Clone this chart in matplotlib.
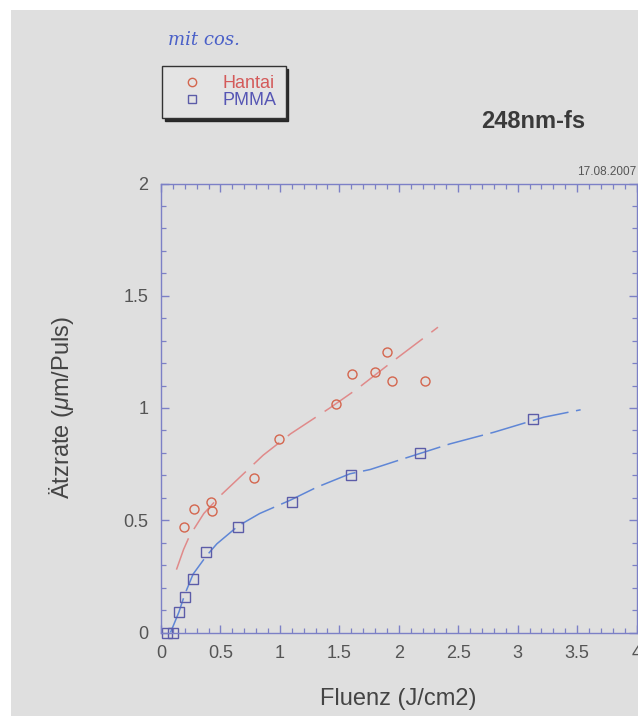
import matplotlib
matplotlib.use('Agg')
import matplotlib.pyplot as plt
from matplotlib.patches import Rectangle
from matplotlib.lines import Line2D

plt.rcParams['font.family'] = ['Liberation Sans', 'DejaVu Sans']
plt.rcParams['mathtext.fontset'] = 'custom'
plt.rcParams['mathtext.rm'] = 'Liberation Sans'
plt.rcParams['mathtext.it'] = 'Liberation Sans:italic'

hantai_x = [0.19, 0.28, 0.42, 0.43, 0.78, 0.99, 1.47, 1.61, 1.80, 1.90, 1.94, 2.22]
hantai_y = [0.47, 0.55, 0.58, 0.54, 0.69, 0.86, 1.02, 1.15, 1.16, 1.25, 1.12, 1.12]
pmma_x = [0.05, 0.10, 0.15, 0.20, 0.27, 0.38, 0.65, 1.10, 1.60, 2.18, 3.13]
pmma_y = [0.0, 0.0, 0.09, 0.16, 0.24, 0.36, 0.47, 0.58, 0.70, 0.80, 0.95]

# fit-kurven
hantai_fit_x = [0.13, 0.19, 0.24, 0.36, 0.50, 0.72, 0.86, 1.09, 1.42, 1.65, 1.93, 2.33]
hantai_fit_y = [0.28, 0.37, 0.43, 0.53, 0.61, 0.72, 0.79, 0.885, 1.00, 1.085, 1.20, 1.36]
pmma_fit_x = [0.08, 0.15, 0.20, 0.27, 0.38, 0.47, 0.65, 0.83, 1.09, 1.31, 1.59, 1.76, 2.01, 2.43, 2.80, 3.22, 3.53]
pmma_fit_y = [0.0, 0.09, 0.17, 0.26, 0.34, 0.395, 0.475, 0.53, 0.59, 0.647, 0.707, 0.726, 0.769, 0.84, 0.892, 0.959, 0.992]

xticks = [0, 0.5, 1, 1.5, 2, 2.5, 3, 3.5, 4]
xticklabels = ['0', '0.5', '1', '1.5', '2', '2.5', '3', '3.5', '4']
yticks = [0, 0.5, 1, 1.5, 2]
yticklabels = ['0', '0.5', '1', '1.5', '2']

fig = plt.figure(figsize=(6.38, 7.16), dpi=100)
fig.patch.set_facecolor('white')
# grauer scan-hintergrund
fig.add_artist(Rectangle((11/638, 0), 1, 1 - 10/716, transform=fig.transFigure,
                         facecolor='#dfdfdf', edgecolor='none', zorder=-10))

ax = fig.add_axes([161/638, 1 - 632.5/716, 475.5/638, 449/716])
ax.set_facecolor('none')

spine_col = '#7c80c6'
for s in ax.spines.values():
    s.set_color(spine_col)
    s.set_linewidth(1.0)

ax.plot(hantai_fit_x, hantai_fit_y, color='#e08a8a', lw=1.1, dashes=[22, 7])
ax.plot(pmma_fit_x, pmma_fit_y, color='#5f86d6', lw=1.1, dashes=[24, 5])
ax.plot(hantai_x, hantai_y, 'o', mfc='none', mec='#d4664e', ms=6.5, mew=1.0, clip_on=False)
ax.plot(pmma_x, pmma_y, 's', mfc='none', mec='#5c5ca8', ms=7, mew=1.0, clip_on=False)

ax.set_xlim(0, 4)
ax.set_ylim(0, 2)
ax.set_xticks(xticks, labels=xticklabels)
ax.set_yticks(yticks, labels=yticklabels)
ax.set_xticks([i / 10 for i in range(41)], minor=True)
ax.set_yticks([i / 10 for i in range(21)], minor=True)
ax.tick_params(which='both', direction='in', top=True, right=True, color=spine_col)
ax.tick_params(which='major', length=6, width=1.0, labelsize=13, labelcolor='#555555')
ax.tick_params(which='minor', length=3.5, width=0.9)
ax.tick_params(axis='x', pad=9)
ax.tick_params(axis='y', pad=9)

ax.set_xlabel('Fluenz (J/cm2)', fontsize=17, color='#444444')
ax.set_ylabel('Ätzrate ($\\mu$m/Puls)', fontsize=17, color='#444444')
ax.xaxis.set_label_coords(0.498, -0.124)
ax.yaxis.set_label_coords(-0.178, 0.5)

ax.text(1.0, 1.012, '17.08.2007', transform=ax.transAxes, ha='right', va='bottom',
        fontsize=8.5, color='#555555')
fig.text(533/638, 1 - 121/716, '248nm-fs', ha='center', va='center',
         fontsize=17, fontweight='bold', color='#3a3a3a')
fig.text(168/638, 1 - 40/716, 'mit cos.', ha='left', va='center', fontsize=13,
         family='DejaVu Serif', style='italic', color='#4a60c8')

handles = [Line2D([], [], ls='none', marker='o', mfc='none', mec='#d4664e', ms=6, mew=1.0),
           Line2D([], [], ls='none', marker='s', mfc='none', mec='#5c5ca8', ms=6, mew=1.0)]
leg = fig.legend(handles, ['Hantai', 'PMMA'], loc='upper left',
                 bbox_to_anchor=(162/638, 1 - 66/716), bbox_transform=fig.transFigure,
                 borderaxespad=0, fontsize=13, labelcolor=['#d45a5a', '#5656b4'],
                 handlelength=2.3, handletextpad=0.55, borderpad=0.5, labelspacing=0.0,
                 fancybox=False, framealpha=1, edgecolor='#333333',
                 shadow={'color': '#222222', 'alpha': 0.95})
leg.get_frame().set_facecolor('#e4e4e4')
leg.get_frame().set_linewidth(1.0)

fig.savefig('out.png', dpi=100)
